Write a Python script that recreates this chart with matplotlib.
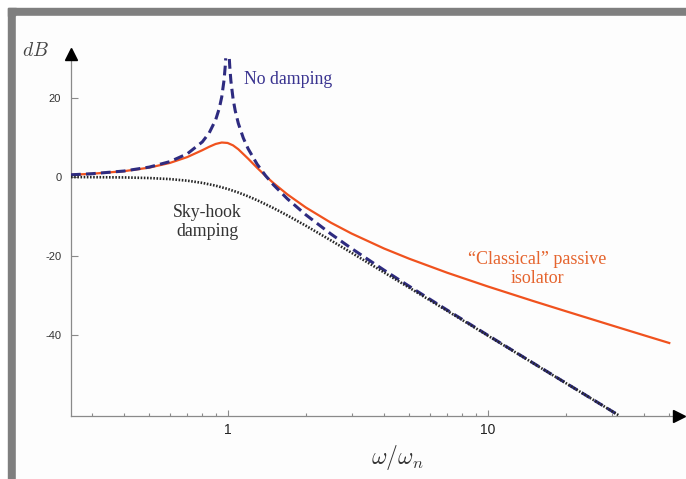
import matplotlib
matplotlib.use("Agg")
import matplotlib.pyplot as plt
from matplotlib.patches import Rectangle
import numpy as np

# ---- data (frequency ratio, dB) ----
classical_r = [0.25, 0.3, 0.4, 0.5, 0.6, 0.7, 0.8, 0.85, 0.9, 0.95, 1.0, 1.05, 1.1, 1.2,
               1.3, 1.4, 1.5, 1.7, 2.0, 2.5, 3.0, 4.0, 5.0, 7.0, 10.0, 15.0, 20.0, 30.0, 40.0, 50.0]
classical_db = [0.56, 0.81, 1.47, 2.37, 3.55, 5.03, 6.77, 7.63, 8.34, 8.71, 8.60, 7.99, 7.01, 4.63,
                2.31, 0.27, -1.50, -4.41, -7.69, -11.55, -14.28, -18.06, -20.64, -24.18, -27.62,
                -31.33, -33.89, -37.46, -39.98, -41.92]

skyhook_r = [0.25, 0.3, 0.4, 0.5, 0.6, 0.7, 0.8, 0.9, 1.0, 1.1, 1.2, 1.3, 1.5, 1.7, 2.0,
             2.5, 3.0, 4.0, 5.0, 7.0, 10.0, 15.0, 20.0, 25.0, 30.0, 32.0]
skyhook_db = [-0.02, -0.04, -0.11, -0.26, -0.53, -0.93, -1.49, -2.19, -3.01, -3.92, -4.88,
              -5.86, -7.83, -9.71, -12.30, -16.03, -19.14, -24.10, -27.96, -33.81, -40.00,
              -47.04, -52.04, -55.92, -59.08, -60.2]

nodamp_lo_r = [0.25, 0.3, 0.4, 0.5, 0.6, 0.7, 0.8, 0.85, 0.9, 0.93, 0.95, 0.97, 0.98, 0.984]
nodamp_lo_db = [0.56, 0.82, 1.51, 2.50, 3.88, 5.85, 8.87, 11.13, 14.42, 17.39, 20.22, 24.57,
                28.05, 29.98]
nodamp_hi_r = [1.016, 1.02, 1.03, 1.05, 1.07, 1.1, 1.15, 1.2, 1.3, 1.4, 1.5, 1.7, 2.0, 2.5,
               3.0, 4.0, 5.0, 7.0, 10.0, 15.0, 20.0, 25.0, 30.0, 32.0]
nodamp_hi_db = [29.8, 27.87, 24.31, 19.79, 16.78, 13.56, 9.83, 7.13, 3.22, 0.35, -1.94, -5.53,
                -9.54, -14.40, -18.06, -23.52, -27.60, -33.62, -39.91, -47.00, -52.02, -55.90,
                -59.08, -60.2]

y_ticks = [20, 0, -20, -40]
y_tick_labels = ["20", "0", "-20", "-40"]
x_ticks = [1, 10]
x_tick_labels = ["1", "10"]

W, H = 686, 479
plt.rcParams['mathtext.fontset'] = 'cm'
fig = plt.figure(figsize=(W / 100, H / 100), dpi=100)
fig.patch.set_facecolor('white')

def fx(px):
    return px / W

def fy(py):
    return 1 - py / H

# gray frame bands
band = '#7f7f7f'
fig.patches.append(Rectangle((fx(8), fy(H)), fx(16) - fx(8), fy(8) - fy(H),
                             transform=fig.transFigure, color=band, zorder=0))
fig.patches.append(Rectangle((fx(8), fy(16)), 1 - fx(8), fy(8) - fy(16),
                             transform=fig.transFigure, color=band, zorder=0))
fig.patches.append(Rectangle((fx(16), 0), 1 - fx(16), fy(16),
                             transform=fig.transFigure, color='#fdfdfd', zorder=0))

ax_l, ax_r, ax_t, ax_b = 71, 679, 54, 416
ax = fig.add_axes([fx(ax_l), fy(ax_b), fx(ax_r) - fx(ax_l), fy(ax_t) - fy(ax_b)])
ax.set_zorder(2)
ax.set_facecolor('none')
ax.set_xscale('log')
x0 = 0.25
decade = 260.0
ax.set_xlim(x0, x0 * 10 ** ((ax_r - ax_l) / decade))
db_per_px = 1 / 3.96
ax.set_ylim(-(ax_b - 177) * db_per_px, (177 - ax_t) * db_per_px)

navy = '#2e2b80'
orange = '#f0521e'
ax.plot(classical_r, classical_db, color=orange, lw=1.6, zorder=3)
ax.plot(nodamp_lo_r, nodamp_lo_db, color=navy, lw=2.2, dashes=(3.2, 1.7), zorder=4)
ax.plot(nodamp_hi_r, nodamp_hi_db, color=navy, lw=2.2, dashes=(3.2, 1.7), zorder=4)
ax.plot(skyhook_r, skyhook_db, color='#262626', lw=1.9, dashes=(0.6, 0.6), zorder=5)

for s in ['top', 'right']:
    ax.spines[s].set_visible(False)
for s in ['left', 'bottom']:
    ax.spines[s].set_color('#8a8a8a')
    ax.spines[s].set_linewidth(0.9)

ax.set_yticks(y_ticks)
ax.set_yticklabels(y_tick_labels)
ax.set_xticks(x_ticks)
ax.set_xticklabels(x_tick_labels)
ax.xaxis.set_minor_locator(matplotlib.ticker.LogLocator(base=10, subs=np.arange(2, 10)))
ax.xaxis.set_minor_formatter(matplotlib.ticker.NullFormatter())
ax.tick_params(axis='y', direction='in', length=5, width=0.8, color='#8a8a8a', pad=7,
               labelsize=8, labelcolor='#333333')
ax.tick_params(axis='x', which='major', direction='in', length=4, width=0.8, color='#8a8a8a',
               pad=5, labelsize=10, labelcolor='#222222')
ax.tick_params(axis='x', which='minor', direction='in', length=2.5, width=0.8, color='#8a8a8a')
for lab in ax.get_xticklabels() + ax.get_yticklabels():
    lab.set_family('Liberation Sans')

# axis arrows
ax.plot([0], [1], marker='^', color='black', markersize=8, transform=ax.transAxes,
        clip_on=False, zorder=6)
ax.plot([1], [0], marker='>', color='black', markersize=8, transform=ax.transAxes,
        clip_on=False, zorder=6)

# labels
fig.text(fx(35), fy(50), r'$dB$', fontsize=14, ha='center', va='center', color='#444444')
fig.text(fx(397), fy(458), r'$\omega/\omega_n$', fontsize=17, ha='center', va='center',
         color='#333333')

serif = 'Liberation Serif'
fig.text(fx(288), fy(79), 'No damping', family=serif, fontsize=12.8, color='#3a3490',
         ha='center', va='center')
fig.text(fx(207), fy(222), 'Sky-hook\ndamping', family=serif, fontsize=12.8, color='#333333',
         ha='center', va='center', linespacing=1.1)
fig.text(fx(537), fy(269), '\u201cClassical\u201d passive\nisolator', family=serif, fontsize=13,
         color='#e5642e', ha='center', va='center', linespacing=1.1)

fig.savefig('out.png', dpi=100)
